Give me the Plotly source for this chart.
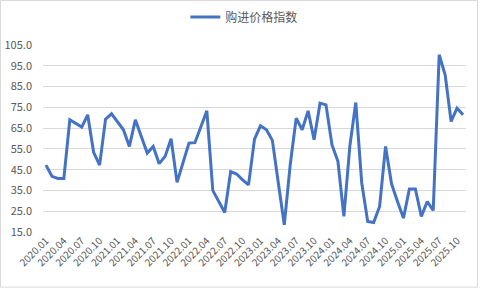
import plotly.graph_objects as go

months = [f"{y}.{m:02d}" for y in range(2020, 2026) for m in range(1, 13)][:71]

values = [
    47.2, 41.8, 40.8, 40.8, 69.0, 67.4, 65.5, 71.4, 53.3, 47.2, 69.3, 71.9,
    68.2, 64.2, 56.2, 69.0, 61.0, 53.0, 56.2, 47.9, 51.4, 59.9, 38.9, 48.2,
    57.8, 58.0, 65.8, 73.3, 35.0, 29.7, 24.4, 44.1, 42.9, 40.1, 37.7, 59.7,
    66.1, 64.2, 59.1, 38.6, 18.5, 47.5, 69.8, 64.2, 73.3, 59.4, 77.0, 76.2,
    57.0, 49.0, 22.5, 56.2, 77.3, 38.6, 20.1, 19.6, 27.3, 56.2, 38.2, 29.7,
    21.7, 35.7, 35.7, 22.5, 29.7, 25.4, 100.3, 90.6, 68.2, 74.6, 71.4,
]

series_name = "购进价格指数"
tick_labels = months[::3]
y_ticks = [15, 25, 35, 45, 55, 65, 75, 85, 95, 105]

FONT = "Noto Sans CJK SC, Noto Sans, sans-serif"
GRAY = "#595959"

fig = go.Figure()
fig.add_trace(go.Scatter(
    x=months, y=values, mode="lines", name=series_name,
    line=dict(color="#4472C4", width=3),
))

fig.update_layout(
    width=482, height=290,
    margin=dict(l=43, r=16, t=45, b=58, autoexpand=False),
    paper_bgcolor="white", plot_bgcolor="white",
    font=dict(family=FONT, color=GRAY),
    showlegend=True,
    legend=dict(orientation="h", x=0.476, xanchor="center", y=1.15, yanchor="middle",
                font=dict(size=12, color=GRAY), bgcolor="rgba(0,0,0,0)"),
    xaxis=dict(type="category", range=[-0.5, len(months) - 0.5], automargin=False,
               tickmode="array", tickvals=tick_labels, ticktext=tick_labels,
               tickangle=-45, tickfont=dict(size=10, color=GRAY),
               showgrid=False, showline=False, ticks="", zeroline=False),
    yaxis=dict(range=[15, 105], tickmode="array", tickvals=y_ticks, automargin=False,
               ticktext=[f"{v:.1f}" for v in y_ticks],
               tickfont=dict(size=11, color=GRAY),
               showgrid=True, gridcolor="#d9d9d9", gridwidth=1,
               showline=False, zeroline=False, ticks="", ticklabelstandoff=10),
    shapes=[dict(type="rect", xref="paper", yref="paper",
                 x0=(0.5 - 43) / 423, x1=(477.5 - 43) / 423,
                 y0=(232.3 - 287.5) / 187.3, y1=(232.3 - 0.5) / 187.3,
                 line=dict(color="#d9d9d9", width=1), layer="below")],
)

fig.write_html("out.html")
